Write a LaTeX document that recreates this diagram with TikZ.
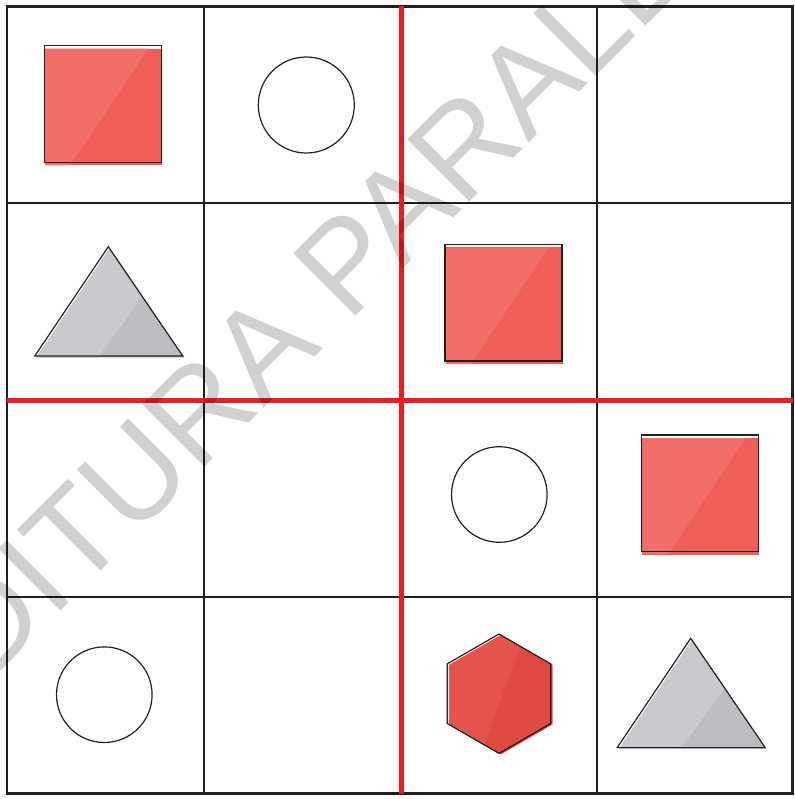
\documentclass[tikz,border=0pt]{standalone}
\usepackage{fontspec}
\newfontfamily\wmfont{Liberation Sans}
\definecolor{gridblack}{RGB}{35,31,32}
\definecolor{gridred}{RGB}{237,28,36}
\definecolor{sqlight}{RGB}{242,110,104}
\definecolor{sqdark}{RGB}{240,95,87}
\definecolor{trilight}{RGB}{201,202,205}
\definecolor{tridark}{RGB}{188,189,193}
\definecolor{hexlight}{RGB}{229,84,76}
\definecolor{hexdark}{RGB}{224,74,66}
\tikzset{
  gridline/.style={draw=gridblack, line width=2.6pt},
  redline/.style={draw=gridred, line width=5pt},
  outline/.style={draw=gridblack, line width=1.2pt, line join=miter},
  circ/.style={draw=gridblack, line width=1.2pt, fill=white},
  watermark/.style={rotate=45, anchor=base west, inner sep=0pt,
    font=\wmfont\fontsize{128}{128}\selectfont, text=black, text opacity=0.18}
}
\newcommand\redsquare[1]{%
  \begin{scope}[shift={#1}]
    \fill[sqdark] (0.7,3) rectangle (117.7,119.7);
    \fill[sqlight] (0.7,3) -- (104,3) -- (26,119.7) -- (0.7,119.7) -- cycle;
    \draw[outline] (0,0) rectangle (117,116.7);
  \end{scope}}
\newcommand\greytriangle[1]{%
  \begin{scope}[shift={#1}]
    \fill[tridark] (1.5,1.5) -- (76,110.8) -- (-72,110.8) -- cycle;
    \fill[trilight] (1.5,1.5) -- (34.3,49.6) -- (-10.3,110.8) -- (-72,110.8) -- cycle;
    \draw[outline] (0,0) -- (74.5,109.3) -- (-73.5,109.3) -- cycle;
  \end{scope}}
\begin{document}
\begin{tikzpicture}[x=1pt, y=-1pt]
  \useasboundingbox (0,0) rectangle (794,799);
  % grid
  \draw[gridline] (7,6.5) rectangle (792.5,793.5);
  \draw[gridline] (204,6.5) -- (204,793.5);
  \draw[gridline] (597,6.5) -- (597,793.5);
  \draw[gridline] (7,203) -- (792.5,203);
  \draw[gridline] (7,597) -- (792.5,597);
  \draw[redline] (401,6.5) -- (401,793.5);
  \draw[redline] (7,400) -- (792.5,400);
  % squares
  \redsquare{(44.3,45.7)}
  \redsquare{(445,244.3)}
  \redsquare{(641.7,435)}
  % circles
  \draw[circ] (306.3,105) circle[radius=48];
  \draw[circ] (499.3,494.5) circle[radius=47.8];
  \draw[circ] (104.3,694.7) circle[radius=47.8];
  % triangles
  \greytriangle{(108.3,246.7)}
  \greytriangle{(690.7,638.3)}
  % hexagon
  \begin{scope}[shift={(499,693.7)}]
    \fill[hexdark] (2,-58.7) -- (53.7,-28.9) -- (53.7,30.7) -- (2,60.7) -- (-49.7,30.7) -- (-49.7,-28.9) -- cycle;
    \begin{scope}
      \clip (2,-58.7) -- (53.7,-28.9) -- (53.7,30.7) -- (2,60.7) -- (-49.7,30.7) -- (-49.7,-28.9) -- cycle;
      \fill[hexlight] (-60,-70) -- (30,-70) -- (-22,70) -- (-60,70) -- cycle;
    \end{scope}
    \draw[outline] (0,-59.7) -- (51.7,-29.85) -- (51.7,29.85) -- (0,59.7) -- (-51.7,29.85) -- (-51.7,-29.85) -- cycle;
  \end{scope}
  % watermark
  \begin{scope}
    \clip (0,0) rectangle (794,799);
    \node[watermark] (wm) at (-73.8,745.8) {EDITURA PARALELA 45};
  \end{scope}
\end{tikzpicture}
\end{document}
